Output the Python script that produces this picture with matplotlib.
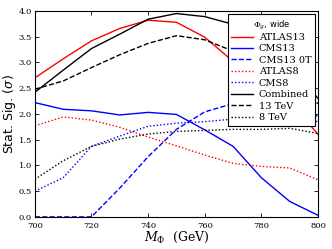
import matplotlib
matplotlib.use("Agg")
import matplotlib.pyplot as plt

mass = [700, 710, 720, 730, 740, 750, 760, 770, 780, 790, 800]
atlas13 = [2.70, 3.07, 3.42, 3.66, 3.82, 3.78, 3.49, 3.02, 2.65, 2.25, 1.60]
cms13 = [2.22, 2.09, 2.06, 1.98, 2.03, 1.99, 1.69, 1.37, 0.76, 0.30, 0.03]
cms13_0t = [0.0, 0.0, 0.0, 0.56, 1.17, 1.70, 2.04, 2.20, 2.28, 2.20, 1.95]
atlas8 = [1.77, 1.94, 1.88, 1.74, 1.55, 1.38, 1.20, 1.04, 0.98, 0.95, 0.72]
cms8 = [0.50, 0.76, 1.37, 1.57, 1.76, 1.82, 1.85, 1.90, 1.93, 1.92, 1.85]
combined = [2.42, 2.85, 3.27, 3.55, 3.84, 3.95, 3.89, 3.74, 3.35, 2.95, 2.30]
tev13 = [2.48, 2.64, 2.90, 3.15, 3.37, 3.52, 3.44, 3.22, 2.95, 2.60, 2.20]
tev8 = [0.73, 1.09, 1.37, 1.51, 1.61, 1.66, 1.68, 1.70, 1.70, 1.72, 1.62]

plt.rcParams['mathtext.fontset'] = 'dejavuserif'
fig = plt.figure(figsize=(3.32, 2.49), dpi=100)
ax = fig.add_axes([0.105, 0.129, 0.853, 0.827])

lw = 1.0
dot = (0, (1, 1.5))
ax.plot(mass, atlas13, color='red', lw=lw, label='ATLAS13')
ax.plot(mass, cms13, color='blue', lw=lw, label='CMS13')
ax.plot(mass, cms13_0t, color='blue', lw=lw, ls='--', label='CMS13 0T')
ax.plot(mass, atlas8, color='red', lw=lw, ls=dot, label='ATLAS8')
ax.plot(mass, cms8, color='blue', lw=lw, ls=dot, label='CMS8')
ax.plot(mass, combined, color='black', lw=lw, label='Combined')
ax.plot(mass, tev13, color='black', lw=lw, ls='--', label='13 TeV')
ax.plot(mass, tev8, color='black', lw=lw, ls=dot, label='8 TeV')

ax.set_xlim(700, 800)
ax.set_ylim(0, 4.0)
ax.set_xticks([700, 720, 740, 760, 780, 800])
ax.set_yticks([0.0, 0.5, 1.0, 1.5, 2.0, 2.5, 3.0, 3.5, 4.0])
ax.tick_params(direction='in', top=True, right=True, labelsize=6, length=3, width=0.6, pad=2)
ax.tick_params(axis='x', pad=3.5)
for lab in ax.get_xticklabels() + ax.get_yticklabels():
    lab.set_fontfamily('DejaVu Serif')
for s in ax.spines.values():
    s.set_linewidth(0.8)

ax.set_xlabel(r'$M_\Phi$  (GeV)', fontsize=9, family='DejaVu Serif', labelpad=0)
ax.set_ylabel(r'Stat. Sig. ($\sigma$)', fontsize=9)
ax.yaxis.set_label_coords(-0.06, 0.5)

leg = ax.legend(loc='upper right', prop={'family': 'DejaVu Serif', 'size': 7},
                title=r'$\Phi_g$, wide', title_fontsize=6, frameon=True, fancybox=False,
                edgecolor='black', framealpha=1, handlelength=2.2, labelspacing=0.25,
                borderpad=0.4, handletextpad=0.6, borderaxespad=0.3)
leg.get_frame().set_linewidth(0.8)

fig.savefig('out.png', dpi=100)
